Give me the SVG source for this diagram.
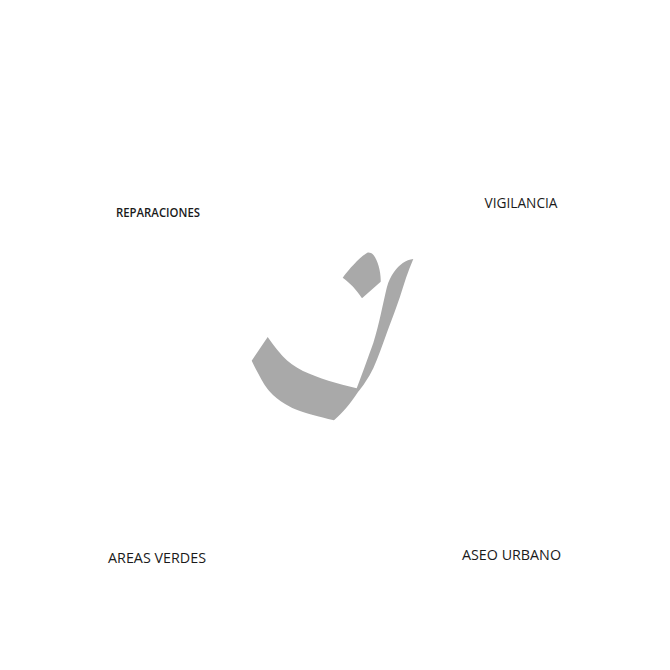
<svg xmlns="http://www.w3.org/2000/svg" width="670" height="670" viewBox="0 0 670 670">
<style>
text{font-family:"Open Sans","Noto Sans","Liberation Sans",sans-serif;fill:#1a1a1a;font-size:14px}
.shape{fill:#a9a9a9}
</style>
<rect width="670" height="670" fill="#fff"/>
<path class="shape" d="M342.700 277.700C350 268 360 257 367.300 252.700C369.500 252.300 371.500 253 373.500 255C378 261 381 272 380.700 281.700L362 298.300C356 289 350 283 342.700 277.700Z"/>
<path class="shape" d="M251.700 360.700L267.700 337C274 346 279 352 283 356.500C288 362 295 367 303 371C318 378 338 384 356.700 388.300C363 372 369 355 373.300 343C379 325 383 303 386.700 288C388.500 281 391 276 394 272C399 265 406 259.500 413.300 259C408 271 404 284 400 296.700C395 311 391 322 386.700 333.300C382 346 378 358 373.300 368.300C368 379 363 386 358 392C351 403 342 413.500 334 420.300C326 418.500 319 416.500 313 415C303 412 296 410 290 406.700C283 403 278 399.500 273 395C267 389 264 384 261.700 380C258 373 254 366 251.700 360.700Z"/>
<g id="reparaciones"><text x="116" y="216.500" style="font-size:12.500px;font-weight:600" textLength="84" lengthAdjust="spacingAndGlyphs">REPARACIONES</text></g>
<g id="vigilancia"><text x="484.500" y="207.500" textLength="73" lengthAdjust="spacingAndGlyphs">VIGILANCIA</text></g>
<g id="areas-verdes"><text x="108" y="562.500" textLength="98" lengthAdjust="spacingAndGlyphs">AREAS VERDES</text></g>
<g id="aseo-urbano"><text x="462" y="559.500" textLength="99" lengthAdjust="spacingAndGlyphs">ASEO URBANO</text></g>
</svg>
